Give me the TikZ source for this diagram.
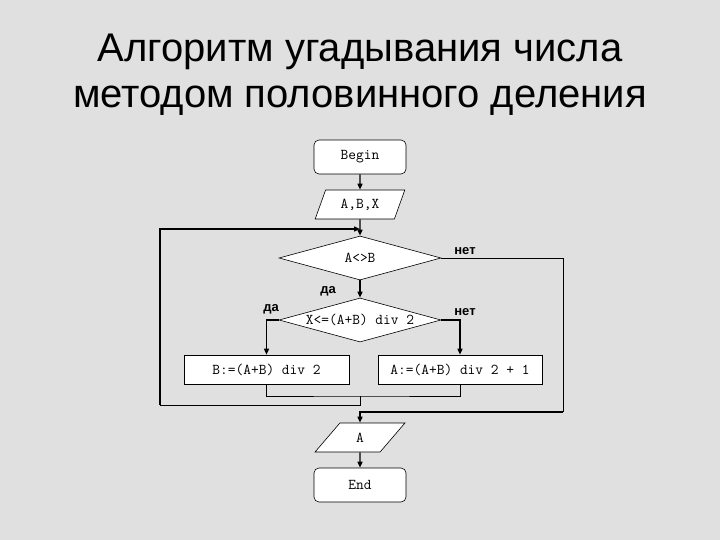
\documentclass[tikz,border=0pt]{standalone}
\usepackage{fontspec}
\setmainfont{Liberation Sans}
\usetikzlibrary{arrows.meta,shapes.geometric}

\tikzset{
  block/.style={draw, fill=white, line width=0.6pt, font=\ttfamily\fontsize{15}{17}\selectfont,
    minimum height=29pt, inner sep=0pt},
  terminal/.style={block, rounded corners=5pt, minimum width=92pt, minimum height=34pt},
  io/.style={block, trapezium, trapezium left angle=63, trapezium right angle=117,
    trapezium stretches=true, minimum width=90pt},
  cond/.style={block, diamond, shape aspect=4, minimum width=162pt, minimum height=44pt},
  flow/.style={line width=1.4pt, -{Triangle[length=6pt,width=5pt]}},
  link/.style={line width=0.8pt},
  answer/.style={font=\bfseries\fontsize{13}{15}\selectfont}
}

\begin{document}
\begin{tikzpicture}[x=1pt,y=-1pt]

% Parameters
\def\mx{360}   % main axis x
\def\lx{160}   % loop line x (left)
\def\rx{563}   % exit line x (right)

% Background
\fill[black!12] (0,0) rectangle (720,540);
\useasboundingbox (0,0) rectangle (720,540);

% Title
\node[anchor=base, font=\fontsize{40}{46}\selectfont] (title1) at (\mx,62) {Алгоритм угадывания числа};
\node[anchor=base, font=\fontsize{40}{46}\selectfont] (title2) at (\mx,108) {методом половинного деления};

% Blocks
\node[terminal] (begin) at (\mx,157) {Begin};
\node[io] (input) at (\mx,204.5) {A,B,X};
\node[cond] (loop) at (\mx,258) {A<>B};
\node[cond] (half) at (\mx,320) {X<=(A+B) div 2};
\node[block, minimum width=165pt] (left) at (266.5,369.5) {B:=(A+B) div 2};
\node[block, minimum width=164pt] (right) at (460,369.5) {A:=(A+B) div 2 + 1};
\node[io] (output) at (\mx,437.5) {A};
\node[terminal] (end) at (\mx,485) {End};

% Helper points
\coordinate (join) at (\mx,229);
\coordinate (merge) at (\mx,396);
\coordinate (back) at (\lx,405);
\coordinate (exit) at (\rx,412);

% Main flow
\draw[flow] (begin) -- (input);
\draw[flow] (input) -- (loop);
\draw[flow] (loop) -- (half);
\draw[flow] (half.west) -| (left.north);
\draw[flow] (half.east) -| (right.north);
\draw[flow] (output) -- (end);

% Merge of both branches and way back to the loop test
\draw[link] (left.south) |- (merge) -| (right.south);
\draw[link] (merge) |- (back);
\draw[flow] (back) |- (join);

% Exit of the loop
\draw[link] (loop.east) -| (exit);
\draw[flow] (exit) -| (output.north);

% Labels
\node[answer] (no1) at (465,251) {нет};
\node[answer] (yes1) at (328,291) {да};
\node[answer] (yes2) at (271,309) {да};
\node[answer] (no2) at (465,312) {нет};

\end{tikzpicture}
\end{document}
